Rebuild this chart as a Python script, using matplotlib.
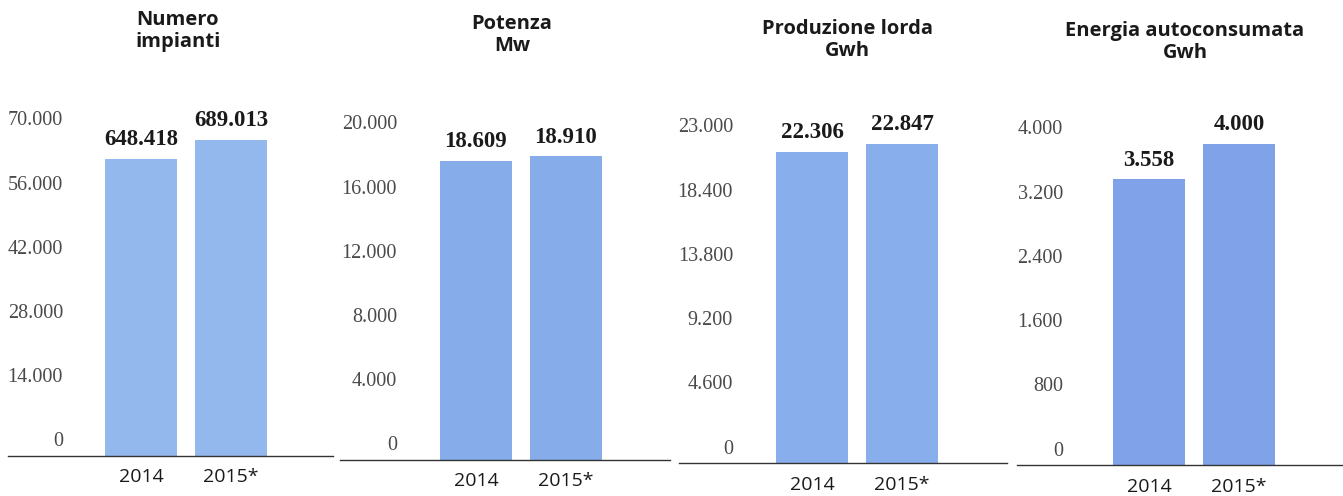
import matplotlib
matplotlib.use('Agg')
import matplotlib.pyplot as plt
import matplotlib.transforms as mtransforms

years = ['2014', '2015*']

titles = ['Numero\nimpianti', 'Potenza\nMw', 'Produzione lorda\nGwh',
          'Energia autoconsumata\nGwh']

impianti = [648418, 689013]
potenza = [18609, 18910]
produzione = [22306, 22847]
autoconsumo = [3558, 4000]

value_labels = [['648.418', '689.013'], ['18.609', '18.910'],
                ['22.306', '22.847'], ['3.558', '4.000']]

# the first panel's scale is printed in tens in the source chart
ticks_impianti = [0, 140000, 280000, 420000, 560000, 700000]
ticks_potenza = [0, 4000, 8000, 12000, 16000, 20000]
ticks_produzione = [0, 4600, 9200, 13800, 18400, 23000]
ticks_autoconsumo = [0, 800, 1600, 2400, 3200, 4000]

tick_labels = [['0', '14.000', '28.000', '42.000', '56.000', '70.000'],
               ['0', '4.000', '8.000', '12.000', '16.000', '20.000'],
               ['0', '4.600', '9.200', '13.800', '18.400', '23.000'],
               ['0', '800', '1.600', '2.400', '3.200', '4.000']]

series = [impianti, potenza, produzione, autoconsumo]
ticks = [ticks_impianti, ticks_potenza, ticks_produzione, ticks_autoconsumo]

W, H = 1343, 496
fig = plt.figure(figsize=(W / 100, H / 100), dpi=100)

# panel geometry in pixels: left, right, baseline, first bar centre,
# label edge, title centre x, title centre y
panels = [
    (8, 333, 456, 141, 63, 178, 31),
    (340, 670, 460, 476, 397, 512, 35),
    (679, 1007, 463, 812, 733, 847, 40),
    (1017, 1343, 465, 1149, 1063, 1185, 42),
]
colors = ['#93b8ee', '#86acea', '#88aeeb', '#7fa2e8']
step = 90.0
bar_px = 72.0
axis_px = 321.0

for i, (x0, x1, base, c0, lab_x, t_x, t_y) in enumerate(panels):
    ax = fig.add_axes([x0 / W, (H - base) / H, (x1 - x0) / W, axis_px / H])
    ax.set_xlim((x0 - c0) / step, (x1 - c0) / step)
    ax.set_ylim(0, ticks[i][-1])
    ax.bar([0, 1], series[i], width=bar_px / step, color=colors[i], zorder=2)

    for sp in ['top', 'right', 'left']:
        ax.spines[sp].set_visible(False)
    ax.spines['bottom'].set_color('#333333')
    ax.spines['bottom'].set_linewidth(1.0)
    ax.set_yticks([])
    ax.set_xticks([0, 1])
    ax.set_xticklabels(years, fontsize=14, family='Open Sans', color='#1a1a1a')
    ax.tick_params(axis='x', length=0, pad=9)

    # y labels sit a little above their gridline, left of the bars
    up = mtransforms.ScaledTranslation(0, 14 / 100, fig.dpi_scale_trans)
    lx = (lab_x - c0) / step
    for t, s in zip(ticks[i], tick_labels[i]):
        ax.text(lx, t, s, ha='right', va='center', fontsize=14.5,
                family='Liberation Serif', color='#4a4a4a',
                transform=ax.transData + up)

    for j, v in enumerate(series[i]):
        ax.annotate(value_labels[i][j], (j, v), xytext=(0, 14),
                    textcoords='offset points', ha='center', va='center',
                    fontsize=16.5, fontweight='bold', family='Liberation Serif',
                    color='#1a1a1a', annotation_clip=False)

    fig.text(t_x / W, 1 - t_y / H, titles[i], ha='center', va='center',
             fontsize=14.5, fontweight='bold', family='Open Sans',
             color='#1a1a1a', linespacing=1.1)

fig.savefig('out.png', dpi=100)
